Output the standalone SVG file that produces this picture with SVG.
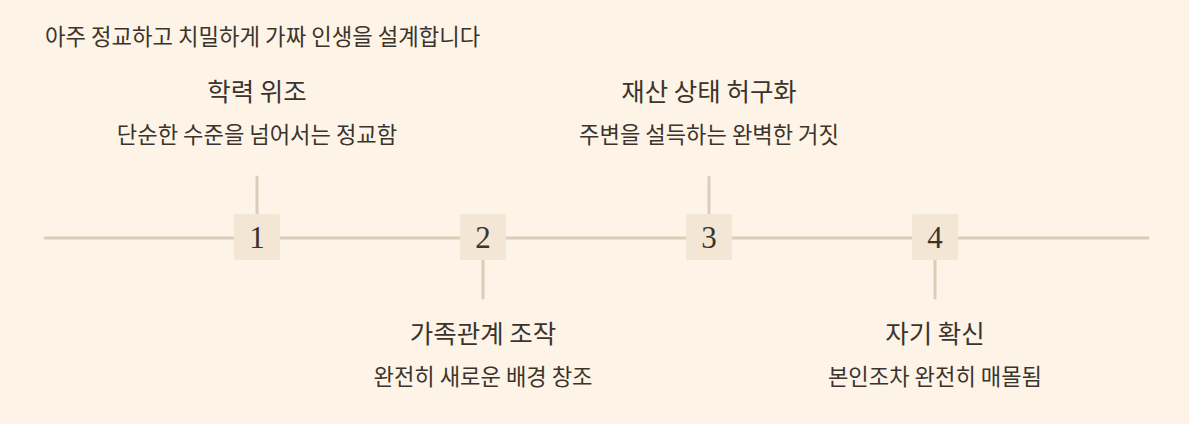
<svg xmlns="http://www.w3.org/2000/svg" width="1189" height="424" viewBox="0 0 1189 424">
<style>
text{font-family:"Noto Sans CJK KR","Noto Sans",sans-serif;fill:#3b342d}
.title{font-size:22.3px}
.h{font-size:25.5px;font-weight:400;text-anchor:middle}
.s{font-size:22.2px;text-anchor:middle}
.num{font-family:"Liberation Serif","DejaVu Serif",serif;font-size:31px;text-anchor:middle;fill:#3b342d}
.box{fill:#f3e6d4}
.ln{stroke:#dccdb9;stroke-width:3;stroke-linecap:round;fill:none}
</style>
<rect width="1189" height="424" fill="#fdf4e7"/>
<text class="title" x="45" y="45">아주 정교하고 치밀하게 가짜 인생을 설계합니다</text>
<g id="connectors">
<line class="ln" x1="45" y1="238" x2="1148" y2="238"/>
<line class="ln" x1="257" y1="177" x2="257" y2="214"/>
<line class="ln" x1="483" y1="260" x2="483" y2="298"/>
<line class="ln" x1="709" y1="177" x2="709" y2="214"/>
<line class="ln" x1="935" y1="260" x2="935" y2="298"/>
</g>
<g id="node1">
<rect class="box" x="234" y="214" width="46" height="46" rx="2"/>
<text class="num" x="257" y="248">1</text>
<text class="h" x="257" y="101">학력 위조</text>
<text class="s" x="257" y="143">단순한 수준을 넘어서는 정교함</text>
</g>
<g id="node2">
<rect class="box" x="460" y="214" width="46" height="46" rx="2"/>
<text class="num" x="483" y="248">2</text>
<text class="h" x="483" y="343">가족관계 조작</text>
<text class="s" x="483" y="385">완전히 새로운 배경 창조</text>
</g>
<g id="node3">
<rect class="box" x="686" y="214" width="46" height="46" rx="2"/>
<text class="num" x="709" y="248">3</text>
<text class="h" x="709" y="101">재산 상태 허구화</text>
<text class="s" x="709" y="143">주변을 설득하는 완벽한 거짓</text>
</g>
<g id="node4">
<rect class="box" x="912" y="214" width="46" height="46" rx="2"/>
<text class="num" x="935" y="248">4</text>
<text class="h" x="935" y="343">자기 확신</text>
<text class="s" x="935" y="385">본인조차 완전히 매몰됨</text>
</g>
</svg>
